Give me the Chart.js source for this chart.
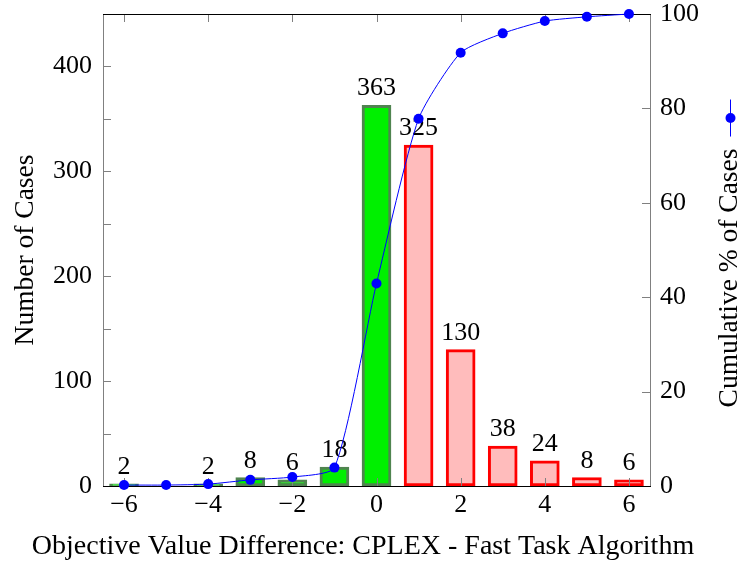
<!DOCTYPE html>
<html>
<head>
<meta charset="utf-8">
<script src="https://cdn.jsdelivr.net/npm/chart.js@4.4.1/dist/chart.umd.min.js"></script>
<style>
  html, body { margin: 0; padding: 0; background: #ffffff; }
  #wrap { position: relative; width: 742px; height: 562px; }
</style>
</head>
<body>
<div id="wrap"><canvas id="chart" width="742" height="562"></canvas></div>
<script>
// Objective value difference (CPLEX - fast task algorithm) and how often it occurs
const differences = [-6, -5, -4, -3, -2, -1, 0, 1, 2, 3, 4, 5, 6];
const caseCounts = [2, 0, 2, 8, 6, 18, 363, 325, 130, 38, 24, 8, 6];
const cumulativePercent = [0.2, 0.2, 0.4, 1.3, 1.9, 3.9, 42.9, 77.8, 91.8, 95.9, 98.5, 99.4, 100];

// Axis ticks
const xTickValues = [-6, -4, -2, 0, 2, 4, 6];
const countTickValues = [0, 50, 100, 150, 200, 250, 300, 350, 400];
const percentTickValues = [0, 20, 40, 60, 80, 100];

const FONT_FAMILY = '"Liberation Serif", "Times New Roman", serif';
const FONT_SIZE = 26;
const TICK_LEN = 8;
const AXIS_GRAY = '#808080';

const GREEN_FILL = '#00f000';
const GREEN_EDGE = '#4f844f';
const RED_FILL = '#ffbcbc';
const RED_EDGE = '#ff0000';
const LINE_BLUE = '#0000ff';

const fmtSigned = v => (v < 0 ? '\u2212' + Math.abs(v) : String(v));

// Frame, inward tick marks and value labels, drawn right after the bars
const decorations = {
  id: 'decorations',
  afterDatasetDraw(chart, args) {
    if (args.index !== 1) return;
    const ctx = chart.ctx;
    const { left, right, top, bottom } = chart.chartArea;
    const sx = chart.scales.x, sy = chart.scales.y, sy1 = chart.scales.y1;
    ctx.save();
    ctx.lineWidth = 1;

    // tick marks
    ctx.strokeStyle = AXIS_GRAY;
    ctx.beginPath();
    sx.ticks.forEach(t => {
      const px = Math.round(sx.getPixelForValue(t.value)) + 0.5;
      ctx.moveTo(px, bottom); ctx.lineTo(px, bottom - TICK_LEN);
      ctx.moveTo(px, top); ctx.lineTo(px, top + TICK_LEN);
    });
    sy.ticks.forEach(t => {
      const py = Math.round(sy.getPixelForValue(t.value)) + 0.5;
      ctx.moveTo(left, py); ctx.lineTo(left + TICK_LEN, py);
    });
    sy1.ticks.forEach(t => {
      const py = Math.round(sy1.getPixelForValue(t.value)) + 0.5;
      ctx.moveTo(right, py); ctx.lineTo(right - TICK_LEN, py);
    });
    ctx.stroke();

    // side axis lines
    ctx.beginPath();
    ctx.moveTo(Math.round(left) + 0.5, top); ctx.lineTo(Math.round(left) + 0.5, bottom);
    ctx.moveTo(Math.round(right) + 0.5, top); ctx.lineTo(Math.round(right) + 0.5, bottom);
    ctx.stroke();

    // top and bottom axis lines
    ctx.strokeStyle = '#000000';
    ctx.beginPath();
    ctx.moveTo(left, Math.round(top) + 0.5); ctx.lineTo(right + 1, Math.round(top) + 0.5);
    ctx.moveTo(left, Math.round(bottom) + 0.5); ctx.lineTo(right + 1, Math.round(bottom) + 0.5);
    ctx.stroke();

    // counts above the bars
    ctx.fillStyle = '#000000';
    ctx.font = FONT_SIZE + 'px ' + FONT_FAMILY;
    ctx.textAlign = 'center';
    ctx.textBaseline = 'alphabetic';
    const meta = chart.getDatasetMeta(1);
    meta.data.forEach((bar, i) => {
      const v = caseCounts[i];
      if (v > 0) ctx.fillText(String(v), bar.x, bar.y - 10);
    });
    ctx.restore();
  }
};

// Axis titles, with the series key placed at the end of the right-hand title
const axisTitles = {
  id: 'axisTitles',
  afterDraw(chart) {
    const ctx = chart.ctx;
    ctx.save();
    ctx.fillStyle = '#000000';
    ctx.textBaseline = 'alphabetic';
    ctx.textAlign = 'center';

    // bottom title
    ctx.font = '28px ' + FONT_FAMILY;
    ctx.fillText('Objective Value Difference: CPLEX - Fast Task Algorithm', 363, 554);

    // left title
    ctx.font = '27.5px ' + FONT_FAMILY;
    ctx.save();
    ctx.translate(33, 250);
    ctx.rotate(-Math.PI / 2);
    ctx.fillText('Number of Cases', 0, 0);
    ctx.restore();

    // right title with key
    const rightText = 'Cumulative % of Cases';
    const cy = 278;
    ctx.save();
    ctx.translate(737, cy);
    ctx.rotate(-Math.PI / 2);
    ctx.fillText(rightText, 0, 0);
    ctx.restore();

    const textTop = cy - ctx.measureText(rightText).width / 2;
    const keyX = 730.5;
    const keyBottom = textTop - 12;
    const keyTop = keyBottom - 37;
    ctx.strokeStyle = LINE_BLUE;
    ctx.lineWidth = 1;
    ctx.beginPath();
    ctx.moveTo(keyX, keyBottom); ctx.lineTo(keyX, keyTop);
    ctx.stroke();
    ctx.fillStyle = LINE_BLUE;
    ctx.beginPath();
    ctx.arc(keyX, (keyTop + keyBottom) / 2, 5, 0, Math.PI * 2);
    ctx.fill();
    ctx.restore();
  }
};

const tickFont = { family: FONT_FAMILY, size: FONT_SIZE };

new Chart(document.getElementById('chart'), {
  type: 'bar',
  data: {
    datasets: [
      {
        type: 'line',
        label: 'Cumulative % of Cases',
        yAxisID: 'y1',
        data: differences.map((d, i) => ({ x: d, y: cumulativePercent[i] })),
        borderColor: LINE_BLUE,
        borderWidth: 1,
        backgroundColor: LINE_BLUE,
        pointBackgroundColor: LINE_BLUE,
        pointBorderWidth: 0,
        pointRadius: 5,
        tension: 0.2,
        clip: false,
        order: 0
      },
      {
        type: 'bar',
        label: 'Number of Cases',
        yAxisID: 'y',
        data: differences.map((d, i) => ({ x: d, y: caseCounts[i] })),
        backgroundColor: differences.map(d => (d <= 0 ? GREEN_FILL : RED_FILL)),
        borderColor: differences.map(d => (d <= 0 ? GREEN_EDGE : RED_EDGE)),
        borderWidth: 3,
        borderSkipped: false,
        barThickness: 29,
        order: 1
      }
    ]
  },
  options: {
    responsive: false,
    animation: false,
    devicePixelRatio: 1,
    layout: { padding: { top: 14, left: 0, right: 0, bottom: 0 } },
    plugins: {
      legend: { display: false },
      tooltip: { enabled: false },
      title: { display: false }
    },
    scales: {
      x: {
        type: 'linear',
        position: 'bottom',
        min: -6.5,
        max: 6.5,
        offset: false,
        grid: { display: false, drawTicks: false, offset: false },
        border: { display: false },
        ticks: {
          font: tickFont, color: '#000000', padding: 4,
          autoSkip: false, maxRotation: 0,
          callback: v => fmtSigned(v)
        },
        afterBuildTicks: s => { s.ticks = xTickValues.map(v => ({ value: v })); },
        afterFit: s => { s.height = 76; s.paddingLeft = 0; s.paddingRight = 0; }
      },
      y: {
        type: 'linear',
        position: 'left',
        min: 0,
        max: 450,
        grid: { display: false, drawTicks: false },
        border: { display: false },
        ticks: {
          font: tickFont, color: '#000000', padding: 11,
          autoSkip: false,
          callback: v => (v % 100 === 0 ? String(v) : '')
        },
        afterBuildTicks: s => { s.ticks = countTickValues.map(v => ({ value: v })); },
        afterFit: s => { s.width = 103; s.paddingTop = 0; s.paddingBottom = 0; }
      },
      y1: {
        type: 'linear',
        position: 'right',
        min: 0,
        max: 100,
        grid: { display: false, drawTicks: false },
        border: { display: false },
        ticks: {
          font: tickFont, color: '#000000', padding: 10,
          autoSkip: false,
          callback: v => String(v)
        },
        afterBuildTicks: s => { s.ticks = percentTickValues.map(v => ({ value: v })); },
        afterFit: s => { s.width = 92; s.paddingTop = 0; s.paddingBottom = 0; }
      }
    }
  },
  plugins: [decorations, axisTitles]
});
</script>
</body>
</html>
